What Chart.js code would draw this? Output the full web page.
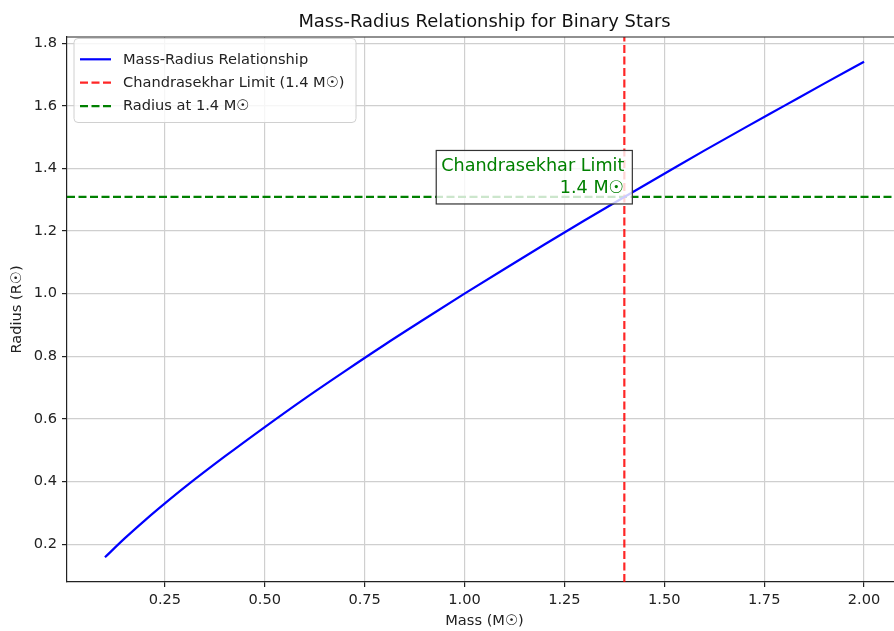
<!DOCTYPE html>
<html><head><meta charset="utf-8">
<script src="https://cdn.jsdelivr.net/npm/chart.js@4.4.1/dist/chart.umd.min.js"></script>
<style>html,body{margin:0;padding:0;overflow:hidden;background:#fff}</style>
</head><body>
<canvas id="c" width="910" height="631"></canvas>
<script>
// ---- data ----
const masses = [0.10, 0.15, 0.20, 0.25, 0.30, 0.40, 0.50, 0.60, 0.70, 0.80, 0.90, 1.00,
                1.10, 1.20, 1.30, 1.40, 1.50, 1.60, 1.70, 1.80, 1.90, 2.00];
const radii  = [0.158, 0.219, 0.276, 0.330, 0.382, 0.480, 0.574, 0.665, 0.752, 0.837, 0.919, 1.000,
                1.079, 1.157, 1.234, 1.309, 1.383, 1.457, 1.529, 1.600, 1.671, 1.741];
const limitMass = 1.4;
const limitRadius = 1.309;
const xTicks = [0.25, 0.50, 0.75, 1.00, 1.25, 1.50, 1.75, 2.00];
const yTicks = [0.2, 0.4, 0.6, 0.8, 1.0, 1.2, 1.4, 1.6, 1.8];
const xRange = [0.005, 2.095];
const yRange = [0.079, 1.820];
const titleText = 'Mass-Radius Relationship for Binary Stars';
const xLabel = 'Mass (M\u2609)';
const yLabel = 'Radius (R\u2609)';
const seriesNames = ['Mass-Radius Relationship', 'Chandrasekhar Limit (1.4 M\u2609)', 'Radius at 1.4 M\u2609'];
const annotationLines = ['Chandrasekhar Limit', '1.4 M\u2609'];

const FONT = '"DejaVu Sans", "Liberation Sans", sans-serif';
const BLUE = '#0000ff', RED = 'rgba(255,0,0,0.85)', GREEN = '#008000';
const DASH = [8, 3.5];

const overlay = {
  id: 'overlay',
  afterDatasetsDraw(chart) {
    const {ctx, chartArea: a, scales: {x, y}} = chart;
    ctx.save();
    // top/right spines
    ctx.strokeStyle = '#222'; ctx.lineWidth = 1.2;
    ctx.beginPath(); ctx.moveTo(a.left, a.top); ctx.lineTo(a.right, a.top); ctx.lineTo(a.right, a.bottom); ctx.stroke();
    // annotation box
    const ax = x.getPixelForValue(limitMass), ay = y.getPixelForValue(limitRadius);
    ctx.font = '17.6px ' + FONT;
    const w = Math.max(...annotationLines.map(t => ctx.measureText(t).width));
    const bx0 = ax - w - 5, bx1 = ax + 8, by0 = ay - 46.5, by1 = ay + 7;
    ctx.fillStyle = 'rgba(255,255,255,0.8)';
    ctx.fillRect(bx0, by0, bx1 - bx0, by1 - by0);
    ctx.strokeStyle = '#333'; ctx.lineWidth = 1.2;
    ctx.strokeRect(bx0, by0, bx1 - bx0, by1 - by0);
    ctx.fillStyle = GREEN; ctx.textAlign = 'right'; ctx.textBaseline = 'alphabetic';
    ctx.fillText(annotationLines[0], ax, ay - 4 - 21.6);
    ctx.fillText(annotationLines[1], ax, ay - 4);
    ctx.restore();
  },
  afterDraw(chart) {
    const {ctx, chartArea: a} = chart;
    ctx.save();
    // title
    ctx.font = '17.9px ' + FONT; ctx.fillStyle = '#111';
    ctx.textAlign = 'center'; ctx.textBaseline = 'alphabetic';
    ctx.fillText(titleText, (a.left + a.right) / 2, 27);
    // legend
    const lx = a.left + 7, ly = a.top + 1.5, lw = 282, lh = 84;
    ctx.beginPath(); ctx.roundRect(lx, ly, lw, lh, 4);
    ctx.fillStyle = 'rgba(255,255,255,0.8)'; ctx.fill();
    ctx.strokeStyle = '#d0d0d0'; ctx.lineWidth = 1; ctx.stroke();
    const cols = [BLUE, RED, GREEN], dashes = [[], DASH, DASH];
    const rows = [59.3, 82.7, 106.2];
    ctx.font = '14.6px ' + FONT; ctx.textAlign = 'left'; ctx.textBaseline = 'middle';
    seriesNames.forEach((n, i) => {
      ctx.strokeStyle = cols[i]; ctx.lineWidth = 2.2; ctx.setLineDash(dashes[i]);
      ctx.beginPath(); ctx.moveTo(80, rows[i]); ctx.lineTo(111, rows[i]); ctx.stroke();
      ctx.setLineDash([]);
      ctx.fillStyle = '#222'; ctx.fillText(n, 123, rows[i] + 0.5);
    });
    ctx.restore();
  }
};

new Chart(document.getElementById('c'), {
  type: 'line',
  data: {
    datasets: [
      { label: seriesNames[0], data: masses.map((m, i) => ({x: m, y: radii[i]})),
        borderColor: BLUE, borderWidth: 2.2, pointRadius: 0, cubicInterpolationMode: 'monotone', fill: false },
      { label: seriesNames[1], data: [{x: limitMass, y: yRange[0]}, {x: limitMass, y: yRange[1]}],
        borderColor: RED, borderWidth: 2.2, borderDash: DASH, pointRadius: 0, fill: false },
      { label: seriesNames[2], data: [{x: xRange[0], y: limitRadius}, {x: xRange[1], y: limitRadius}],
        borderColor: GREEN, borderWidth: 2.2, borderDash: DASH, pointRadius: 0, fill: false }
    ]
  },
  options: {
    responsive: false, animation: false, devicePixelRatio: 1,
    layout: { padding: { top: 37, right: 8, left: 0, bottom: 0 } },
    plugins: { legend: { display: false }, tooltip: { enabled: false }, title: { display: false } },
    scales: {
      x: {
        type: 'linear', min: xRange[0], max: xRange[1],
        afterBuildTicks: s => { s.ticks = xTicks.map(v => ({value: v})); },
        afterFit: s => { s.height = 49; },
        ticks: { callback: v => v.toFixed(2), color: '#222', font: { family: FONT, size: 14.6 }, padding: 4, maxRotation: 0, autoSkip: false },
        grid: { color: '#cfcfcf', lineWidth: 1.2, tickLength: 5, tickColor: '#222', tickWidth: 1.2 },
        border: { display: true, color: '#222', width: 1.2 },
        title: { display: true, text: xLabel, color: '#222', font: { family: FONT, size: 14.6, lineHeight: 1.2 }, padding: { top: 0, bottom: 1 } }
      },
      y: {
        type: 'linear', min: yRange[0], max: yRange[1],
        afterBuildTicks: s => { s.ticks = yTicks.map(v => ({value: v})); },
        afterFit: s => { s.width = 67; },
        ticks: { callback: v => v.toFixed(1), color: '#222', font: { family: FONT, size: 14.6 }, padding: 5, autoSkip: false },
        grid: { color: '#cfcfcf', lineWidth: 1.2, tickLength: 5, tickColor: '#222', tickWidth: 1.2 },
        border: { display: true, color: '#222', width: 1.2 },
        title: { display: true, text: yLabel, color: '#222', font: { family: FONT, size: 14.6, lineHeight: 1.2 }, padding: { top: 8, bottom: 0 } }
      }
    }
  },
  plugins: [overlay]
});
</script>
</body></html>
